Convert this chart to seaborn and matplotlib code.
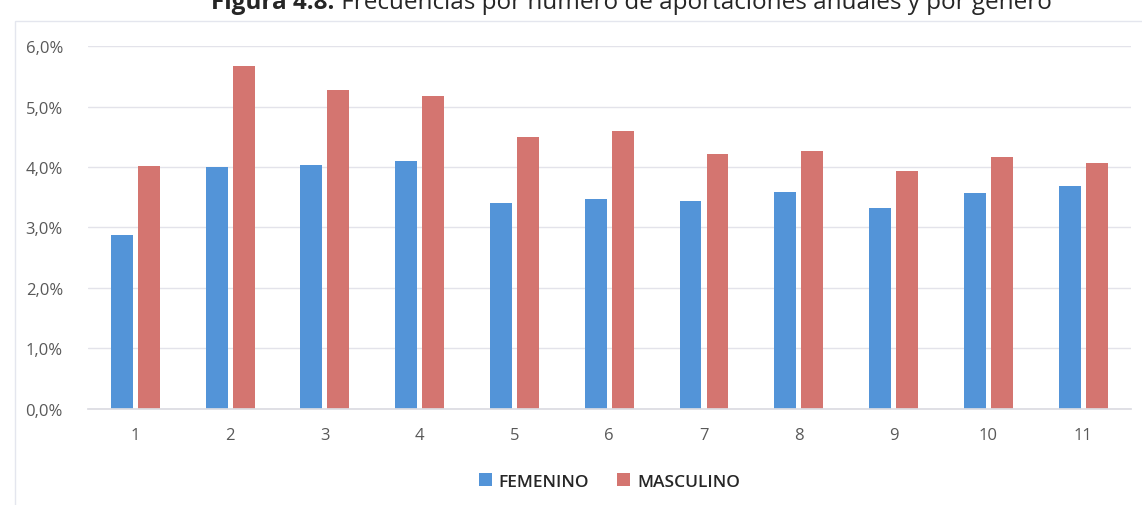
import pandas as pd
import matplotlib.pyplot as plt
import seaborn as sns
from matplotlib.ticker import FuncFormatter
from matplotlib.patches import Rectangle

# Datos (porcentaje)
aportaciones = ['1', '2', '3', '4', '5', '6', '7', '8', '9', '10', '11']
femenino = [2.87, 4.00, 4.04, 4.10, 3.41, 3.47, 3.44, 3.58, 3.33, 3.57, 3.68]
masculino = [4.02, 5.67, 5.28, 5.18, 4.50, 4.60, 4.21, 4.26, 3.93, 4.16, 4.07]
generos = ['FEMENINO', 'MASCULINO']
colores = ['#5394D8', '#D47570']

df = pd.DataFrame({
    'Aportaciones': aportaciones * 2,
    'Genero': [generos[0]] * len(aportaciones) + [generos[1]] * len(aportaciones),
    'Frecuencia': femenino + masculino,
})

sns.set_theme(style='white')
plt.rcParams['font.family'] = ['Open Sans', 'DejaVu Sans']

fig = plt.figure(figsize=(11.42, 5.06), dpi=100)
ax = fig.add_axes([0.077, 0.19, 0.913, 0.717])

sns.barplot(data=df, x='Aportaciones', y='Frecuencia', hue='Genero',
            palette=colores, saturation=1, width=0.57, gap=0.19,
            linewidth=0, ax=ax, legend=True)

ax.set_ylim(0, 6)
ax.set_yticks([0, 1, 2, 3, 4, 5, 6])
ax.yaxis.set_major_formatter(FuncFormatter(lambda v, p: f'{v:.1f}%'.replace('.', ',')))
ax.grid(axis='y', color='#E3E3EA', linewidth=1)
ax.set_axisbelow(True)
for s in ['top', 'right', 'left']:
    ax.spines[s].set_visible(False)
ax.spines['bottom'].set_color('#DCDCE2')
ax.tick_params(axis='both', colors='#595959', labelsize=12, length=0)
ax.tick_params(axis='y', pad=18)
ax.tick_params(axis='x', pad=13)
ax.set_xlabel('')
ax.set_ylabel('')

ax.legend(loc='upper center', bbox_to_anchor=(0.5, -0.135), ncol=2, frameon=False,
          fontsize=12.5, handlelength=0.75, handleheight=0.75, handletextpad=0.4,
          columnspacing=1.6, prop={'weight': 'semibold', 'size': 12.5})
for t in ax.get_legend().get_texts():
    t.set_color('#262626')

# marco del gráfico
fig.patches.append(Rectangle((0.013, -0.01), 1.0, 0.967, transform=fig.transFigure,
                             fill=False, edgecolor='#E4E6EE', linewidth=1))

# título (cortado en la parte superior como en el original)
t1 = fig.text(0.185, 0.982, 'Figura 4.8.', fontsize=17.5, fontweight='bold',
              color='#262626', va='baseline', ha='left')
t2 = fig.text(0.5, 0.982, ' Frecuencias por número de aportaciones anuales y por género',
              fontsize=17.5, color='#262626', va='baseline', ha='left')
fig.canvas.draw()
bb = t1.get_window_extent()
t2.set_position((bb.x1 / fig.bbox.width, 0.982))

fig.savefig('out.png', dpi=100)
